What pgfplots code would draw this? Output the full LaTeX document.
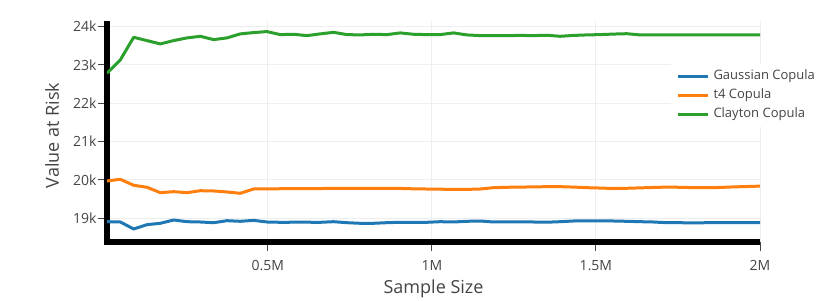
\documentclass[border=0pt]{standalone}
\usepackage{fontspec}
\setmainfont{Open Sans}
\usepackage{pgfplots}
\usepackage{pgfplotstable}
\pgfplotsset{compat=1.18}
\definecolor{plblue}{HTML}{1F77B4}
\definecolor{plorange}{HTML}{FF7F0E}
\definecolor{plgreen}{HTML}{2CA02C}
\definecolor{txt}{HTML}{444444}
\definecolor{gridc}{HTML}{EEEEEE}

\pgfplotstableread{
x g t c
10000 18914 19974 22779
50612 18906 20018 23128
91224 18724 19862 23716
131837 18836 19810 23630
172449 18872 19670 23544
213061 18958 19696 23630
253673 18914 19670 23700
294286 18906 19721 23742
334898 18888 19714 23656
375510 18940 19688 23700
416122 18924 19653 23805
456735 18948 19766 23839
497347 18906 19770 23865
537959 18898 19772 23786
578571 18900 19775 23795
619184 18900 19776 23760
659796 18898 19778 23805
700408 18914 19780 23846
741020 18888 19780 23786
781633 18872 19782 23778
822245 18872 19784 23795
862857 18888 19784 23786
903469 18898 19780 23830
944082 18898 19770 23795
984694 18898 19765 23786
1025306 18914 19760 23786
1065918 18906 19755 23830
1106531 18924 19755 23778
1147143 18932 19765 23760
1187755 18906 19800 23760
1228367 18906 19810 23760
1268980 18906 19815 23765
1309592 18906 19820 23760
1350204 18900 19826 23770
1390816 18914 19826 23742
1431429 18932 19815 23765
1472041 18932 19800 23778
1512653 18932 19790 23786
1553265 18932 19778 23800
1593878 18924 19784 23810
1634490 18914 19795 23778
1675102 18906 19805 23780
1715714 18888 19815 23780
1756327 18888 19810 23780
1796939 18880 19800 23780
1837551 18888 19800 23780
1878163 18888 19805 23780
1918776 18888 19820 23780
1959388 18888 19830 23780
2000000 18888 19840 23780
}\datatable

\begin{document}
\begin{tikzpicture}
\path[use as bounding box] (0,0) rectangle (840pt,300pt);
\begin{axis}[
  at={(107pt,58pt)}, anchor=south west,
  scale only axis, width=653pt, height=220.9pt,
  xmin=10000, xmax=2000000, ymin=18385, ymax=24138,
  axis x line*=bottom, axis y line*=left,
  axis line style={-, line width=6pt, black},
  every outer y axis line/.append style={shorten <=-3pt},
  tick align=outside, major tick length=9pt,
  tick style={txt, line width=1pt},
  scaled x ticks=false, scaled y ticks=false,
  xtick={500000,1000000,1500000,2000000},
  xticklabels={0.5M,1M,1.5M,2M},
  ytick={19000,20000,21000,22000,23000,24000},
  yticklabels={19k,20k,21k,22k,23k,24k},
  ticklabel style={font=\fontsize{14pt}{16pt}\selectfont, text=txt},
  xticklabel style={yshift=-6pt},
  yticklabel style={xshift=2pt},
  grid=major, grid style={gridc, line width=1pt},
  xlabel={Sample Size}, ylabel={Value at Risk},
  label style={font=\fontsize{18pt}{21pt}\selectfont, text=txt},
  xlabel style={at={(axis description cs:0.5,-0.2128)}, anchor=center},
  ylabel style={at={(axis description cs:-0.0842,0.482)}, anchor=center},
  legend cell align=left,
  legend image code/.code={\draw[#1] (0pt,0pt) -- (30pt,0pt);},
  legend style={draw=none, fill=white, at={(axis description cs:0.8637,0.8059)}, anchor=north west,
    font=\fontsize{13pt}{15pt}\selectfont, text=txt,
    inner xsep=5.3pt, inner ysep=6.3pt, row sep=6.3pt, column sep=4pt,
    nodes={inner sep=0pt, text height=9.5pt, text depth=3.2pt}},
  every axis plot/.append style={line width=3pt, line join=round},
]
\addplot[plblue] table[x=x, y=g] {\datatable};
\addlegendentry{Gaussian Copula}
\addplot[plorange] table[x=x, y=t] {\datatable};
\addlegendentry{t4 Copula}
\addplot[plgreen] table[x=x, y=c] {\datatable};
\addlegendentry{Clayton Copula}
\end{axis}
\end{tikzpicture}
\end{document}
